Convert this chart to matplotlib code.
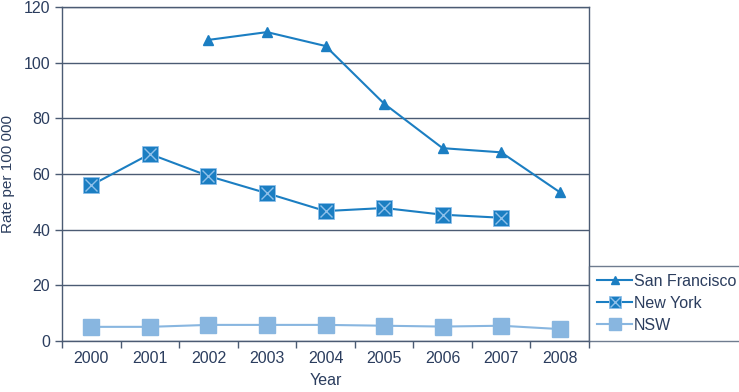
import matplotlib.pyplot as plt
from matplotlib.ticker import FixedLocator, NullFormatter

plt.rcParams["font.family"] = ["Liberation Sans", "DejaVu Sans"]

years = ["2000", "2001", "2002", "2003", "2004", "2005", "2006", "2007", "2008"]
sf_idx = [2, 3, 4, 5, 6, 7, 8]
san_francisco = [108.2, 111.0, 106.0, 85.3, 69.3, 67.8, 53.5]
ny_idx = [0, 1, 2, 3, 4, 5, 6, 7]
new_york = [56.0, 67.2, 59.3, 53.1, 46.7, 47.8, 45.4, 44.3]
nsw_idx = [0, 1, 2, 3, 4, 5, 6, 7, 8]
nsw = [5.1, 5.1, 5.8, 5.8, 5.8, 5.5, 5.2, 5.5, 4.3]

dark = "#1b7ec2"
light = "#88b6e0"
cross = "#8fc0ea"
axis_col = "#4b5b73"
text_col = "#2b3d5e"

fig = plt.figure(figsize=(7.39, 3.92), dpi=100)
ax = fig.add_axes([0.084, 0.130, 0.713, 0.852])

l_sf, = ax.plot(sf_idx, san_francisco, color=dark, lw=1.5, marker="^",
                markersize=7, label="San Francisco", zorder=4)
l_ny, = ax.plot(ny_idx, new_york, color=dark, lw=1.5, marker="s",
                markersize=11, markeredgecolor=cross, markeredgewidth=0.6,
                label="New York", zorder=4)
l_nyx, = ax.plot(ny_idx, new_york, ls="none", marker="x", markersize=9,
                 markeredgecolor=cross, markeredgewidth=1.0, zorder=5)
l_nsw, = ax.plot(nsw_idx, nsw, color=light, lw=1.5, marker="s",
                 markersize=11, label="NSW", zorder=4)

ax.set_xlim(-0.5, 8.5)
ax.set_ylim(0, 120)
ax.set_yticks(range(0, 121, 20))
ax.xaxis.set_major_locator(FixedLocator([i - 0.5 for i in range(10)]))
ax.xaxis.set_major_formatter(NullFormatter())
ax.xaxis.set_minor_locator(FixedLocator(range(9)))
ax.set_xticklabels(years, minor=True)
ax.tick_params(axis="x", which="major", length=5, color=axis_col, width=1)
ax.tick_params(axis="x", which="minor", length=0, pad=7, labelsize=11.5,
               labelcolor=text_col)
ax.tick_params(axis="y", length=5, color=axis_col, width=1, labelsize=11.5,
               labelcolor=text_col)

ax.grid(axis="y", color=axis_col, lw=1)
ax.set_axisbelow(True)
for s in ax.spines.values():
    s.set_color(axis_col)
    s.set_linewidth(1)

ax.set_xlabel("Year", color=text_col, fontsize=11.5)
ax.set_ylabel("Rate per 100 000", color=text_col, fontsize=11, labelpad=6)
ax.xaxis.set_label_coords(0.5, -0.095)

leg = ax.legend([l_sf, (l_ny, l_nyx), l_nsw],
                ["San Francisco", "New York", "NSW"],
                loc="lower left", bbox_to_anchor=(1.0, 0.0), borderaxespad=0,
                frameon=True, fancybox=False, fontsize=11.5,
                handlelength=2.2, handletextpad=0.1, labelspacing=0.45,
                borderpad=0.5, markerscale=0.8)
leg.get_frame().set_edgecolor(axis_col)
leg.get_frame().set_linewidth(1)
for t in leg.get_texts():
    t.set_color(text_col)

fig.savefig("out.png", dpi=100)
